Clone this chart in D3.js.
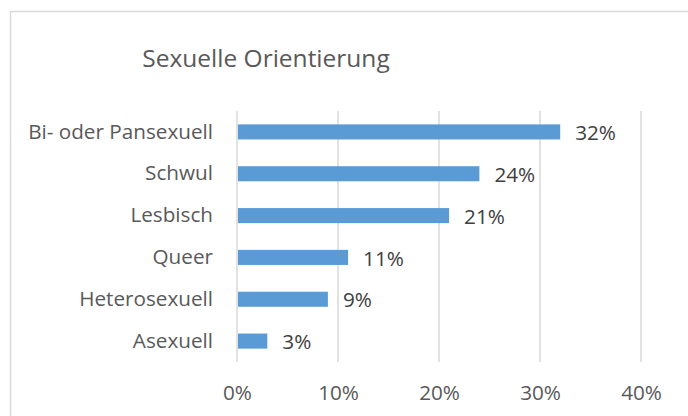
<!DOCTYPE html>
<html>
<head>
<meta charset="utf-8">
<script src="https://cdn.jsdelivr.net/npm/d3@7"></script>
<style>
  body { margin: 0; background: #fff; }
  svg { display: block; font-family: "Open Sans", sans-serif; }
</style>
</head>
<body>
<div id="chart"></div>
<script>
// data
var categories = ["Bi- oder Pansexuell", "Schwul", "Lesbisch", "Queer", "Heterosexuell", "Asexuell"];
var values = [32, 24, 21, 11, 9, 3];
var ticks = [0, 10, 20, 30, 40];
var title = "Sexuelle Orientierung";

var svgWidth = 688;
var svgHeight = 416;
var plot = { left: 237, right: 641, top: 111, bottom: 362 };
var font = "'Open Sans', sans-serif";
var labelSize = "20.7px";

var svg = d3.select("#chart")
  .append("svg")
  .attr("width", svgWidth)
  .attr("height", svgHeight);

// chart border (only top and left visible, rest is cropped)
svg.append("rect")
  .attr("x", 10.5)
  .attr("y", 11.5)
  .attr("width", 700)
  .attr("height", 420)
  .attr("fill", "none")
  .attr("stroke", "#d9d9d9")
  .attr("stroke-width", 1.5);

svg.append("text")
  .attr("x", 266)
  .attr("y", 67)
  .attr("text-anchor", "middle")
  .attr("fill", "#595959")
  .style("font-size", "24.5px")
  .text(title);

var x = d3.scaleLinear()
  .domain([0, 40])
  .range([plot.left, plot.right]);

var y = d3.scaleBand()
  .domain(categories)
  .range([plot.top, plot.bottom])
  .paddingInner(0.64)
  .paddingOuter(0.32);

// gridlines
svg.append("g")
  .selectAll("line")
  .data(ticks)
  .enter()
  .append("line")
  .attr("x1", d => x(d))
  .attr("x2", d => x(d))
  .attr("y1", plot.top)
  .attr("y2", plot.bottom)
  .attr("stroke", "#d9d9d9")
  .attr("stroke-width", 1.5);

// x axis labels
var xAxis = d3.axisBottom(x)
  .tickValues(ticks)
  .tickFormat(d => d + "%")
  .tickSize(0)
  .tickPadding(0);

svg.append("g")
  .attr("transform", `translate(0, ${plot.bottom + 23})`)
  .call(xAxis)
  .call(g => g.select(".domain").remove())
  .selectAll("text")
  .attr("fill", "#595959")
  .style("font-size", labelSize)
  .style("font-family", font);

// y axis labels
var yAxis = d3.axisLeft(y)
  .tickSize(0)
  .tickPadding(24);

svg.append("g")
  .attr("transform", `translate(${plot.left}, 0)`)
  .call(yAxis)
  .call(g => g.select(".domain").remove())
  .selectAll("text")
  .attr("fill", "#595959")
  .style("font-size", labelSize)
  .style("font-family", font);

// bars
svg.append("g")
  .selectAll("rect")
  .data(values)
  .enter()
  .append("rect")
  .attr("x", x(0) + 1)
  .attr("y", (d, i) => y(categories[i]))
  .attr("width", d => x(d) - x(0) - 1)
  .attr("height", y.bandwidth())
  .attr("fill", "#5b9bd5");

// data labels
svg.append("g")
  .selectAll("text")
  .data(values)
  .enter()
  .append("text")
  .attr("x", d => x(d) + 15)
  .attr("y", (d, i) => y(categories[i]) + y.bandwidth() / 2 + 1)
  .attr("dy", "0.35em")
  .attr("fill", "#404040")
  .style("font-size", labelSize)
  .text(d => d + "%");
</script>
</body>
</html>
